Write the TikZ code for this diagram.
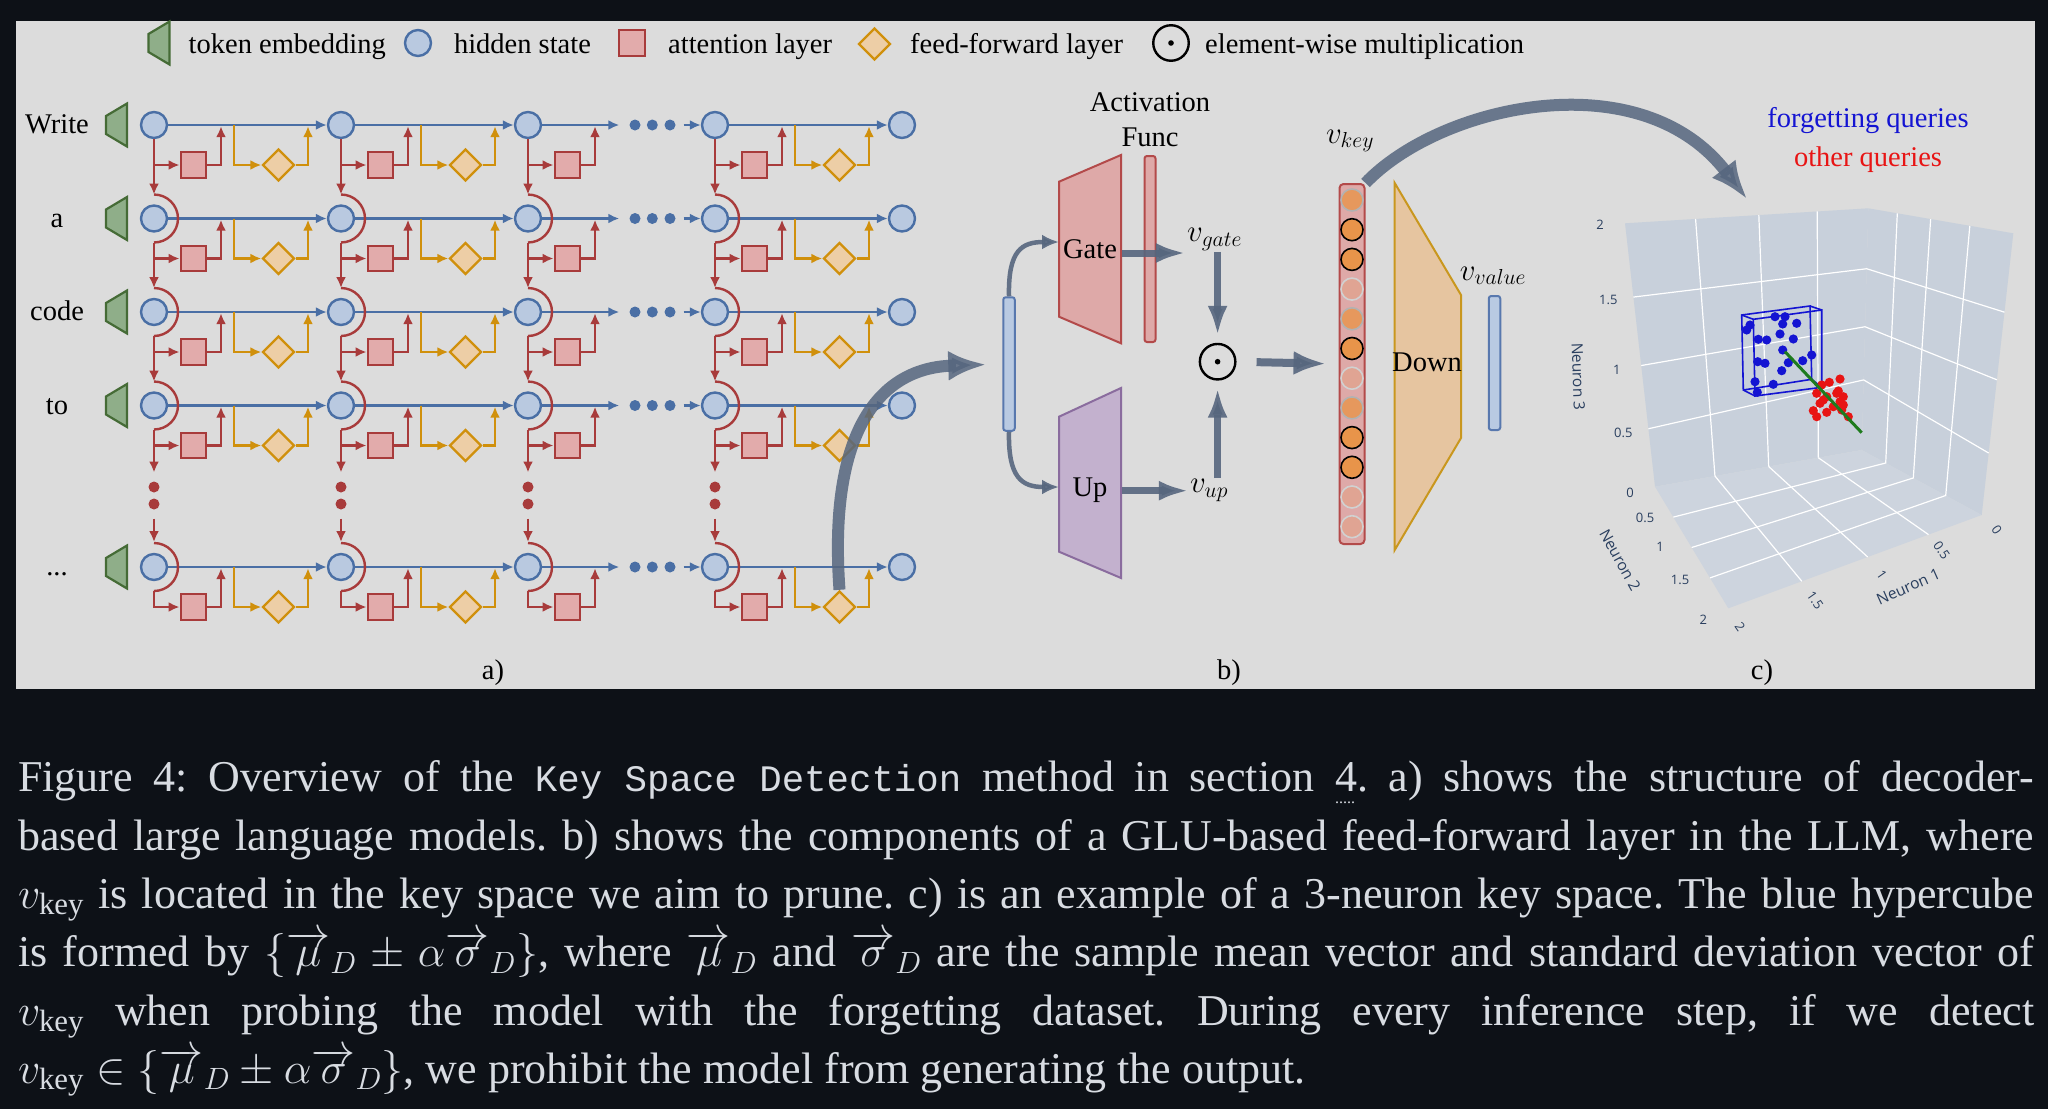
\RequirePackage{fix-cm}
\documentclass[tikz,border=0pt]{standalone}
\usepackage{amsmath}
\usepackage{fontspec}
\setmainfont{Liberation Serif}
\setsansfont{Open Sans}
\setmonofont{Liberation Mono}[Scale=0.85]
\usetikzlibrary{arrows.meta,calc,positioning,shapes.geometric}
\frenchspacing
\definecolor{pageDark}{HTML}{0D1117}
\definecolor{panelGray}{HTML}{DCDCDC}
\definecolor{capGray}{HTML}{D8DCE2}
\definecolor{hidBlue}{HTML}{4A6FA5}
\definecolor{hidFill}{HTML}{B9C9E0}
\definecolor{attRed}{HTML}{A83B3B}
\definecolor{attFill}{HTML}{E2ABAB}
\definecolor{ffGold}{HTML}{D0900C}
\definecolor{ffFill}{HTML}{EDCEA6}
\definecolor{tokBorder}{HTML}{456B36}
\definecolor{tokFill}{HTML}{8FAE89}
\definecolor{arrowSlate}{HTML}{56667E}
\definecolor{gateRed}{HTML}{B34A4A}
\definecolor{gateFill}{HTML}{DEA9A8}
\definecolor{upPurple}{HTML}{8A6C9E}
\definecolor{upFill}{HTML}{C3B1CE}
\definecolor{downGold}{HTML}{C9971E}
\definecolor{downFill}{HTML}{E6C5A0}
\definecolor{vecBlue}{HTML}{5878AE}
\definecolor{vecFill}{HTML}{B9CAE2}
\definecolor{keyOrange}{HTML}{E8944A}
\definecolor{wallFill}{HTML}{C8D0DB}
\definecolor{floorFill}{HTML}{CDD4DE}
\definecolor{queryBlue}{HTML}{1414D2}
\definecolor{queryRed}{HTML}{E81414}
\definecolor{fitGreen}{HTML}{1E7B1E}
\definecolor{plotText}{HTML}{2A3F5F}
\tikzset{
  figText/.style={font=\fontsize{28.5}{34}\selectfont, inner sep=0pt},
  mathLabel/.style={font=\fontsize{31}{36}\selectfont, inner sep=1pt},
  capLine/.style={font=\fontsize{44}{58}\selectfont, text=capGray, inner sep=0pt, anchor=base west},
  tickLabel/.style={font=\sffamily\fontsize{13}{15}\selectfont, text=plotText, inner sep=0pt},
  axisTitle/.style={font=\sffamily\fontsize{15.5}{18}\selectfont, text=plotText, inner sep=0pt},
  hidState/.style={circle, draw=hidBlue, fill=hidFill, line width=2.4pt, minimum size=26pt, inner sep=0pt},
  attBox/.style={rectangle, draw=attRed, fill=attFill, line width=2.4pt, minimum size=25.5pt, inner sep=0pt},
  ffBox/.style={diamond, aspect=1, draw=ffGold, fill=ffFill, line width=2.4pt, minimum size=32pt, inner sep=0pt},
  odotSym/.style={circle, draw=black, line width=2.4pt, minimum size=35.5pt, inner sep=0pt},
  dotMark/.style={circle, fill=#1, draw=none, minimum size=11pt, inner sep=0pt},
  resArrow/.style={-{Latex[length=11pt,width=10pt]}, draw=hidBlue, line width=2.4pt},
  attArrow/.style={-{Latex[length=11pt,width=10pt]}, draw=attRed, line width=2.4pt},
  attLine/.style={draw=attRed, line width=2.4pt},
  ffArrow/.style={-{Latex[length=11pt,width=10pt]}, draw=ffGold, line width=2.4pt},
  vecBar/.style={rectangle, rounded corners=2.5pt, draw=vecBlue, fill=vecFill, line width=2pt, minimum width=11.5pt, inner sep=0pt},
  actBar/.style={rectangle, rounded corners=2.5pt, draw=gateRed, fill=gateFill, line width=2pt, minimum width=11pt, minimum height=186pt, inner sep=0pt},
  keyBar/.style={rectangle, rounded corners=4pt, draw=gateRed, fill=gateFill, line width=2pt, minimum width=25pt, minimum height=360pt, inner sep=0pt},
  keyCell/.style={circle, minimum size=22pt, inner sep=0pt, line width=1.6pt},
  keyStrong/.style={fill=keyOrange, draw=black},
  keyMid/.style={fill=keyOrange!80!gateFill, draw=black!30},
  keyFaint/.style={fill=keyOrange!22!gateFill, draw=black!18},
  gateShape/.style={draw=gateRed, fill=gateFill, line width=2pt},
  upShape/.style={draw=upPurple, fill=upFill, line width=2pt},
  downShape/.style={draw=downGold, fill=downFill, line width=2pt},
  thickArrow/.style={-{Latex[length=30pt,width=20pt]}, draw=arrowSlate, line width=7pt, opacity=0.9},
  inArrow/.style={-{Latex[length=17pt,width=15pt]}, draw=arrowSlate, line width=4.5pt, opacity=0.9},
  bigArrow/.style={-{Latex[length=38pt,width=30pt]}, draw=arrowSlate, line width=12pt, opacity=0.85},
  gridLine/.style={draw=white, line width=1.2pt},
  cubeEdge/.style={draw=queryBlue, line width=1.6pt}
}
\newcommand{\tokenEmb}[2]{%
  \draw[draw=tokBorder, fill=tokFill, line width=2.2pt] (#1-10.5,#2-9) -- (#1+10.5,#2-21.5) -- (#1+10.5,#2+21.5) -- (#1-10.5,#2+9) -- cycle;
}
\newcommand{\tokDots}{...}
\newcommand{\linkNum}[1]{\rlap{\raisebox{-12pt}{\fontsize{16}{16}\selectfont.....}}#1}

\begin{document}
\begin{tikzpicture}[x=1pt,y=-1pt]
\useasboundingbox (0,0) rectangle (2048,1109);
\fill[pageDark] (0,0) rectangle (2048,1109);
\fill[panelGray] (15.5,20.5) rectangle (2035,689.3);

% --------------------------------------------------------------------------
% Legend
% --------------------------------------------------------------------------
\tokenEmb{159}{43}
\node[figText, anchor=base west] (lgTokTxt) at (188.5,53) {token embedding};
\node[hidState] (lgHid) at (418,43) {};
\node[figText, anchor=base west] (lgHidTxt) at (453.8,53) {hidden state};
\node[attBox] (lgAtt) at (632,43) {};
\node[figText, anchor=base west] (lgAttTxt) at (668,53) {attention layer};
\node[ffBox] (lgFF) at (874.5,44) {};
\node[figText, anchor=base west] (lgFFTxt) at (910,53) {feed-forward layer};
\node[odotSym] (lgOdot) at (1171,43) {};
\fill (lgOdot.center) circle (2.8pt);
\node[figText, anchor=base west] (lgOdotTxt) at (1205,53) {element-wise multiplication};

% --------------------------------------------------------------------------
% Panel a -- decoder stack
% --------------------------------------------------------------------------
\foreach \r/\y/\word in {1/125/Write, 2/218.5/a, 3/312/code, 4/405.5/to, 5/567/\tokDots} {
  \node[figText, anchor=base] (aTok\r) at (57,\y+8.5) {\word};
  \tokenEmb{116.5}{\y}
  \foreach \c/\x in {1/154,2/341,3/528,4/715,5/902}
    \node[hidState] (aHid\r\c) at (\x,\y) {};
}
\foreach \r in {1,...,5} {
  \foreach \c in {1,...,4}
    \node[attBox] (aAtt\r\c) at ($(aHid\r\c)+(39.5,40)$) {};
  \foreach \c in {1,2,4}
    \node[ffBox] (aFF\r\c) at ($(aHid\r\c)+(124.5,40)$) {};
  \foreach \k/\dx in {1/107,2/124.3,3/142}
    \node[dotMark=hidBlue] (aDot\r\k) at ($(aHid\r3)+(\dx,0)$) {};
  \draw[resArrow] (aHid\r1) -- (aHid\r2);
  \draw[resArrow] (aHid\r2) -- (aHid\r3);
  \draw[resArrow, shorten >=10pt] (aHid\r3) -- (aDot\r1);
  \draw[resArrow, shorten <=8pt] (aDot\r3) -- (aHid\r4);
  \draw[resArrow] (aHid\r4) -- (aHid\r5);
}
\foreach \r in {1,...,5} \foreach \c in {1,2,4} {
  \draw[ffArrow] ($(aHid\r\c)+(80,0)$) |- (aFF\r\c.west);
  \draw[ffArrow] (aFF\r\c.east) -| ($(aHid\r\c)+(154,1.2)$);
}
\foreach \c in {1,...,4} {
  \draw[attArrow] (aHid1\c.south) -- ($(aHid2\c)+(0,-24)$);
  \draw[attArrow] ($(aHid2\c)+(0,24)$) -- ($(aHid3\c)+(0,-24)$);
  \draw[attArrow] ($(aHid3\c)+(0,24)$) -- ($(aHid4\c)+(0,-24)$);
  \draw[attArrow] ($(aHid4\c)+(0,24)$) -- ($(aHid4\c)+(0,67)$);
  \node[dotMark=attRed] (aVDot\c1) at ($(aHid4\c)+(0,81.5)$) {};
  \node[dotMark=attRed] (aVDot\c2) at ($(aHid4\c)+(0,98.5)$) {};
  \draw[attArrow, shorten <=9pt] (aVDot\c2) -- ($(aHid5\c)+(0,-25)$);
  \foreach \r in {2,...,5}
    \draw[attLine] ($(aHid\r\c)+(0,-24)$) arc[start angle=90, end angle=-90, radius=24pt];
  \foreach \r in {1,...,4}
    \draw[attArrow] (aAtt\r\c.west -| aHid\r\c) -- (aAtt\r\c.west);
  \draw[attArrow] ($(aHid5\c)+(0,24)$) |- (aAtt5\c.west);
  \foreach \r in {1,...,5}
    \draw[attArrow] (aAtt\r\c.east) -| ($(aHid\r\c)+(67,1.2)$);
}
\node[figText, anchor=base] (aLabel) at (493,679) {a)};

% --------------------------------------------------------------------------
% Panel b -- GLU feed-forward layer
% --------------------------------------------------------------------------
\node[vecBar, minimum height=133.5pt] (bIn) at (1009,364) {};
\filldraw[gateShape] (1059,181.7) -- (1121,155) -- (1121,343.3) -- (1059,316.7) -- cycle;
\filldraw[upShape] (1059,416.7) -- (1121,388) -- (1121,578) -- (1059,551.7) -- cycle;
\coordinate (bGateIn) at (1059,242);
\coordinate (bGateOut) at (1122,253);
\coordinate (bUpIn) at (1059,487);
\coordinate (bUpOut) at (1122,490.7);
\node[figText, anchor=base] (bGateTxt) at (1090,258.3) {Gate};
\node[figText, anchor=base] (bUpTxt) at (1090,496.7) {Up};
\node[actBar] (bAct) at (1150,249) {};
\node[figText, anchor=base] (bActTxt1) at (1150,111.7) {Activation};
\node[figText, anchor=base] (bActTxt2) at (1150,146.7) {Func};
\node[mathLabel, anchor=base] (bVGate) at (1214.5,241.7) {$v_{gate}$};
\node[mathLabel, anchor=base] (bVUp) at (1209,492.7) {$v_{up}$};
\node[odotSym] (bOdot) at (1217.6,361.7) {};
\fill (bOdot.center) circle (2.8pt);
\node[keyBar] (bKey) at (1352,364) {};
\foreach \i/\lvl in {1/Mid,2/Strong,3/Strong,4/Faint,5/Mid,6/Strong,7/Faint,8/Mid,9/Strong,10/Strong,11/Faint,12/Faint}
  \node[keyCell, key\lvl] (bCell\i) at (1352,{200+(\i-1)*29.7}) {};
\node[mathLabel, anchor=base] (bVKey) at (1350,143.3) {$v_{key}$};
\filldraw[downShape] (1394.7,183) -- (1461,295) -- (1461,438) -- (1394.7,550) -- cycle;
\node[figText, anchor=base] (bDownTxt) at (1427,371.7) {Down};
\node[vecBar, minimum height=134pt] (bVal) at (1494.5,363) {};
\node[mathLabel, anchor=base] (bVValue) at (1493,280) {$v_{value}$};

\draw[inArrow] (bIn.north) .. controls (1008,250) and (1022,242) .. (bGateIn);
\draw[inArrow] (bIn.south) .. controls (1008,478) and (1022,487) .. (bUpIn);
\draw[thickArrow] (bGateOut) -- (bGateOut -| bVGate.west);
\draw[thickArrow] (bUpOut) -- (bUpOut -| bVUp.west);
\draw[thickArrow, shorten >=7pt] (bOdot.north |- bVGate.south) -- (bOdot.north);
\draw[thickArrow, shorten >=7pt] (bOdot.south |- bVUp.north) -- (bOdot.south);
\draw[thickArrow, line width=8pt, -{Latex[length=33pt,width=24pt]}, shorten <=20pt, shorten >=12pt] (bOdot.east) -- (bKey.west);
\node[figText, anchor=base] (bLabel) at (1229,679) {b)};

% --------------------------------------------------------------------------
% Panel c -- 3-neuron key space
% --------------------------------------------------------------------------
\coordinate (cA) at (1625,223.3);
\coordinate (cB) at (1868.3,208.3);
\coordinate (cC) at (1861.7,450);
\coordinate (cD) at (1655,486.7);
\coordinate (cE) at (1728.3,608.3);
\coordinate (cF) at (1981.7,515);
\coordinate (cG) at (2013.3,233.3);
\fill[wallFill] (cA) -- (cB) -- (cC) -- (cD) -- cycle;
\fill[wallFill] (cB) -- (cG) -- (cF) -- (cC) -- cycle;
\fill[floorFill] (cD) -- (cC) -- (cF) -- (cE) -- cycle;
\foreach \t in {0.29,0.55,0.79} {
  \draw[gridLine] ($(cA)!\t!(cB)$) -- ($(cD)!\t!(cC)$);
  \draw[gridLine] ($(cD)!\t!(cC)$) -- ($(cE)!\t!(cF)$);
}
\foreach \t/\u/\v in {0.28/0.25/0.28,0.54/0.49/0.52,0.78/0.71/0.78} {
  \draw[gridLine] ($(cA)!\t!(cD)$) -- ($(cB)!\u!(cC)$) -- ($(cG)!\v!(cF)$);
}
\foreach \t/\s in {0.2/0.25,0.43/0.5,0.7/0.75} {
  \draw[gridLine] ($(cB)!\t!(cG)$) -- ($(cC)!\t!(cF)$) -- ($(cD)!\s!(cE)$);
}
\foreach \px/\py in {1750/325,1746.7/330,1775/316.7,1785/316.7,1782.7/324,1796.7/323.3,1758.3/339.3,1766.7/340,1780/334,1793.3/339,1782.7/350,1811.7/355,1802.7/360.7,1788.3/362.7,1757.7/361.7,1765/363.3,1781.7/370.7,1755/381.7,1773.3/384.3,1757.3/392.3}
  \fill[queryBlue] (\px,\py) circle (4.6pt);
\draw[cubeEdge] (1741.7,315) -- (1810,306) -- (1811.7,379.3) -- (1743.3,390) -- cycle;
\draw[cubeEdge] (1753.3,319.3) -- (1821.7,310) -- (1821.7,387.3) -- (1755,396) -- cycle;
\draw[cubeEdge] (1741.7,315) -- (1753.3,319.3) (1810,306) -- (1821.7,310)
  (1811.7,379.3) -- (1821.7,387.3) (1743.3,390) -- (1755,396);
\foreach \px/\py in {1840/379,1829.3/382.3,1821.7/385,1816.7/393.3,1838.3/391,1826.7/396.7,1843.3/396.7,1840/401.7,1820/403.3,1833.3/406.7,1813.3/410.7,1841.7/410,1826.7/412.3,1816.7/416.7,1848.3/416.7,1836.7/393.3,1823.3/400,1843.3/405}
  \fill[queryRed] (\px,\py) circle (4.6pt);
\draw[fitGreen, line width=3pt] (1785,351.7) -- (1861.7,432.7);
\foreach \t/\px/\py [count=\i] in {2/1600/225,1.5/1608.3/300,1/1616.7/370,0.5/1623.3/433.3}
  \node[tickLabel] (cTickZ\i) at (\px,\py) {\t};
\foreach \t/\px/\py [count=\i] in {0/1630/493.3,0.5/1645/518.3,1/1660/546.7,1.5/1680/580,2/1703.3/620}
  \node[tickLabel] (cTickY\i) at (\px,\py) {\t};
\foreach \t/\px/\py [count=\i] in {2/1740/626.7,1.5/1815/600,1/1881.7/575,0.5/1941.7/550,0/1996.7/530}
  \node[tickLabel, rotate=-55] (cTickX\i) at (\px,\py) {\t};
\node[axisTitle, rotate=-88] (cAxisZ) at (1578.3,376.7) {Neuron 3};
\node[axisTitle, rotate=-61] (cAxisY) at (1620,560) {Neuron 2};
\node[axisTitle, rotate=24] (cAxisX) at (1908.3,586.7) {Neuron 1};
\node[figText, anchor=base, text=queryBlue] (cForget) at (1868,127) {forgetting queries};
\node[figText, anchor=base, text=queryRed] (cOther) at (1868,166) {other queries};
\coordinate (cTarget) at (1747,199);
\node[figText, anchor=base] (cLabel) at (1762,679) {c)};

% big connectors between panels
\draw[bigArrow, shorten >=16pt] (aFF54.north) .. controls (828,430) and (880,368) .. (bIn.west);
\draw[bigArrow] (bKey.north east) .. controls (1440,105) and (1640,60) .. (cTarget);

% --------------------------------------------------------------------------
% Caption
% --------------------------------------------------------------------------
\node[capLine] (capLine1) at (18,791.7) {\hbox to 2016pt{Figure 4: Overview of the \texttt{Key Space Detection} method in section \linkNum{4}. a) shows the structure of decoder-}};
\node[capLine] (capLine2) at (18,850) {\hbox to 2016pt{based large language models. b) shows the components of a GLU-based feed-forward layer in the LLM, where}};
\node[capLine] (capLine3) at (18,908.3) {\hbox to 2016pt{$v_{\text{key}}$ is located in the key space we aim to prune. c) is an example of a 3-neuron key space. The blue hypercube}};
\node[capLine] (capLine4) at (18,966.7) {\hbox to 2016pt{is formed by $\{\overrightarrow{\mu}_D \pm \alpha\overrightarrow{\sigma}_D\}$, where $\overrightarrow{\mu}_D$ and $\overrightarrow{\sigma}_D$ are the sample mean vector and standard deviation vector of}};
\node[capLine] (capLine5) at (18,1025) {\hbox to 2016pt{$v_{\text{key}}$ when probing the model with the forgetting dataset. During every inference step, if we detect}};
\node[capLine] (capLine6) at (18,1083.3) {$v_{\text{key}} \in \{\overrightarrow{\mu}_D \pm \alpha\overrightarrow{\sigma}_D\}$, we prohibit the model from generating the output.};

\end{tikzpicture}
\end{document}
